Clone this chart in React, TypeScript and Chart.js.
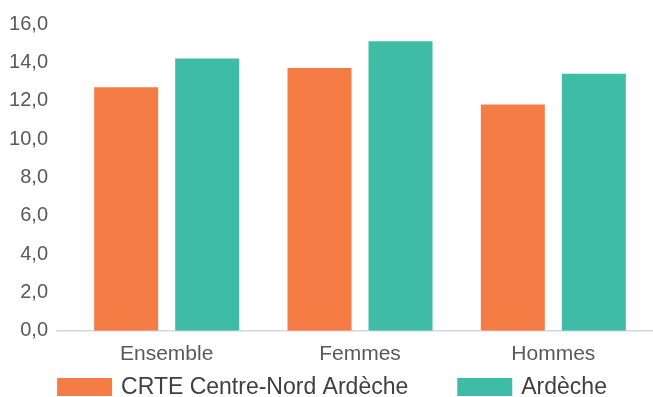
import React, { useEffect, useRef } from "react";
import { Chart, registerables } from "chart.js";

Chart.register(...registerables);

const categories = ["Ensemble", "Femmes", "Hommes"];
const seriesNames = ["CRTE Centre-Nord Ardèche", "Ardèche"];
const crteValues = [12.7, 13.7, 11.8];
const ardecheValues = [14.2, 15.1, 13.4];
const seriesColors = ["#F57D45", "#3FBCA5"];
const yTicks = [0, 2, 4, 6, 8, 10, 12, 14, 16];

const FONT = "'Liberation Sans', Arial, sans-serif";

const axisLinePlugin = {
  id: "axisLine",
  beforeDatasetsDraw(chart: any) {
    const { ctx, chartArea } = chart;
    ctx.save();
    ctx.strokeStyle = "#d3d7df";
    ctx.lineWidth = 1.5;
    ctx.beginPath();
    ctx.moveTo(56, chartArea.bottom);
    ctx.lineTo(653, chartArea.bottom);
    ctx.stroke();
    ctx.restore();
  },
};

const bottomLegendPlugin = {
  id: "bottomLegend",
  afterDraw(chart: any) {
    const { ctx } = chart;
    const boxW = 55;
    const boxH = 18;
    const textGap = 9;
    const itemGap = 49;
    ctx.save();
    ctx.font = `23px ${FONT}`;
    const items = chart.data.datasets.map((ds: any) => {
      const w = ctx.measureText(ds.label).width;
      return { label: ds.label, color: ds.backgroundColor, w: boxW + textGap + w };
    });
    const total =
      items.reduce((s: number, it: any) => s + it.w, 0) + itemGap * (items.length - 1);
    let x = 332 - total / 2;
    const cy = 387;
    items.forEach((it: any) => {
      ctx.fillStyle = it.color;
      ctx.fillRect(x, cy - boxH / 2, boxW, boxH);
      ctx.fillStyle = "#404040";
      ctx.textBaseline = "middle";
      ctx.textAlign = "left";
      ctx.fillText(it.label, x + boxW + textGap, cy + 1);
      x += it.w + itemGap;
    });
    ctx.restore();
  },
};

export default function App() {
  const ref = useRef<HTMLCanvasElement | null>(null);

  useEffect(() => {
    if (!ref.current) return;
    const chart = new Chart(ref.current, {
      type: "bar",
      data: {
        labels: categories,
        datasets: [
          {
            label: seriesNames[0],
            data: crteValues,
            backgroundColor: seriesColors[0],
            categoryPercentage: 0.838,
            barPercentage: 0.79,
          },
          {
            label: seriesNames[1],
            data: ardecheValues,
            backgroundColor: seriesColors[1],
            categoryPercentage: 0.838,
            barPercentage: 0.79,
          },
        ],
      },
      options: {
        responsive: false,
        animation: false,
        devicePixelRatio: 1,
        layout: { padding: { top: 24, right: 3, bottom: 19, left: 0 } },
        plugins: {
          legend: { display: false },
          tooltip: { enabled: false },
        },
        scales: {
          x: {
            grid: { display: false, drawTicks: false },
            border: { display: false },
            ticks: {
              color: "#595959",
              font: { family: FONT, size: 21 },
              padding: 11,
            },
          },
          y: {
            min: 0,
            max: 16,
            afterFit(scale: any) {
              scale.width = 70;
              scale.paddingTop = 0;
              scale.paddingBottom = 0;
            },
            afterBuildTicks(scale: any) {
              scale.ticks = yTicks.map((v) => ({ value: v }));
            },
            grid: { display: false, drawTicks: false },
            border: { display: false },
            ticks: {
              color: "#595959",
              font: { family: FONT, size: 20 },
              padding: 22,
              callback: (v: any) => Number(v).toFixed(1).replace(".", ","),
            },
          },
        },
      },
      plugins: [axisLinePlugin, bottomLegendPlugin],
    });
    return () => chart.destroy();
  }, []);

  return (
    <div style={{ position: "fixed", left: 0, top: 0, width: 653, height: 397, background: "#fff" }}>
      <canvas ref={ref} width={653} height={397} />
    </div>
  );
}
